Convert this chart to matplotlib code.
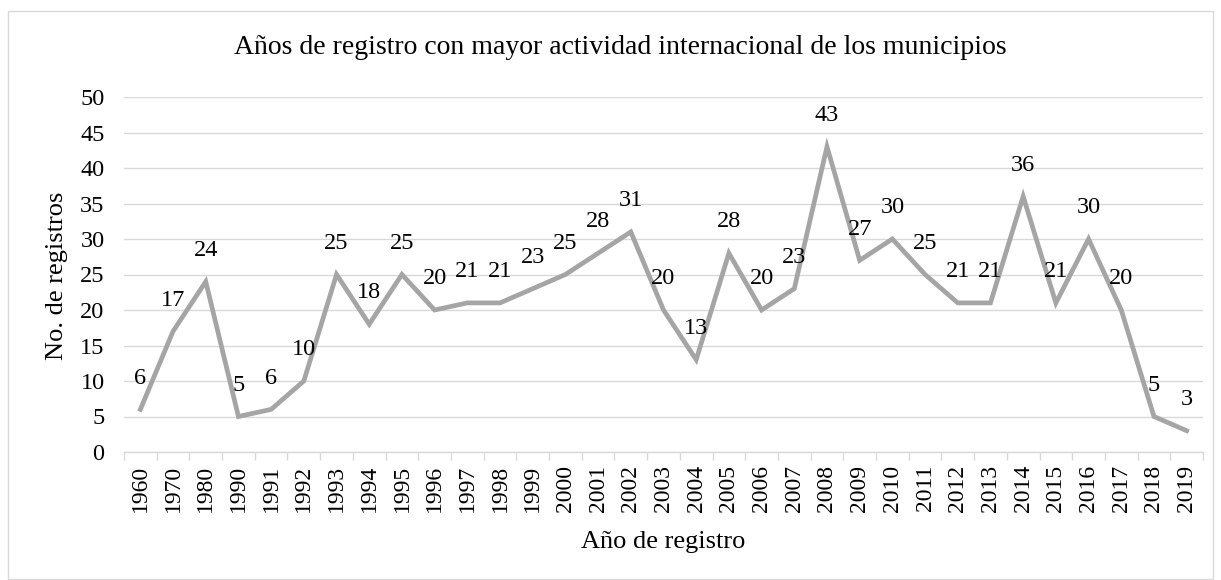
import matplotlib
matplotlib.use("Agg")
import matplotlib.pyplot as plt
from matplotlib.patches import Rectangle

years = ["1960", "1970", "1980", "1990", "1991", "1992", "1993", "1994", "1995", "1996",
         "1997", "1998", "1999", "2000", "2001", "2002", "2003", "2004", "2005", "2006",
         "2007", "2008", "2009", "2010", "2011", "2012", "2013", "2014", "2015", "2016",
         "2017", "2018", "2019"]
registros = [6, 17, 24, 5, 6, 10, 25, 18, 25, 20, 21, 21, 23, 25, 28, 31, 20, 13, 28, 20,
             23, 43, 27, 30, 25, 21, 21, 36, 21, 30, 20, 5, 3]

plt.rcParams['font.family'] = ['Liberation Serif', 'DejaVu Serif']

fig = plt.figure(figsize=(12.21, 5.80), dpi=100)
ax = fig.add_axes([124/1221, 1-452/580, (1203-124)/1221, (452-97)/580])

x = list(range(len(years)))
ax.plot(x, registros, color='#A5A5A5', linewidth=3.4, solid_joinstyle='miter', zorder=3)
for xi, v in zip(x, registros):
    ax.annotate(str(v), (xi, v), xytext=(0, 22.5), textcoords='offset points',
                ha='center', va='center', fontsize=17.5, color='black', zorder=4)

ax.set_xlim(-0.5, len(years) - 0.5)
ax.set_ylim(0, 50)
ax.set_yticks(range(0, 51, 5))
ax.set_xticks(x)
ax.set_xticklabels(years, rotation=90, fontsize=17)
ax.set_xticks([i - 0.5 for i in range(len(years) + 1)], minor=True)
ax.tick_params(axis='x', which='major', length=0, pad=9)
ax.tick_params(axis='x', which='minor', length=6, color='#D9D9D9', width=1)
ax.tick_params(axis='y', length=0, labelsize=17.5, pad=14)

ax.grid(axis='y', color='#D9D9D9', linewidth=1, zorder=0)
for s in ['top', 'right', 'left']:
    ax.spines[s].set_visible(False)
ax.spines['bottom'].set_color('#D9D9D9')
ax.spines['bottom'].set_linewidth(1)

fig.text(57/1221, 1 - 276/580, 'No. de registros', rotation=90, ha='center', va='center', fontsize=19)
fig.text(663/1221, 1 - 542/580, 'Año de registro', ha='center', va='center', fontsize=19)
fig.text(620/1221, 1 - 47/580, 'Años de registro con mayor actividad internacional de los municipios',
         ha='center', va='center', fontsize=20)

fig.patches.append(Rectangle((8/1221, 0.002), (1213-8)/1221, 1 - 11/580 - 0.002,
                             transform=fig.transFigure, fill=False,
                             edgecolor='#D9D9D9', linewidth=1))

fig.savefig('out.png', dpi=100, facecolor='white')
